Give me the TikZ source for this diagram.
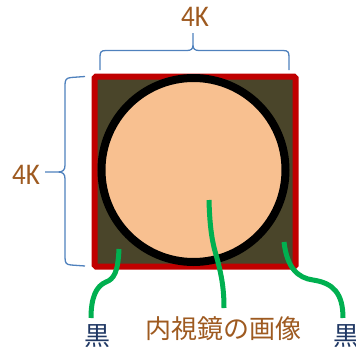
\documentclass[tikz,border=0pt]{standalone}
\usepackage{fontspec}
\setmainfont{Carlito}
\newfontfamily\cjk{Noto Sans CJK JP}
\definecolor{braceblue}{RGB}{79,129,189}
\definecolor{txtbrown}{RGB}{158,90,32}
\definecolor{txtblue}{RGB}{32,56,100}
\definecolor{darkfill}{RGB}{74,69,42}
\definecolor{peach}{RGB}{248,192,144}
\definecolor{frred}{RGB}{192,0,0}
\definecolor{lgreen}{RGB}{0,176,80}
\tikzset{
  bracestyle/.style={draw=braceblue, line width=1.3pt, line join=round},
  sizelabel/.style={text=txtbrown, font=\fontsize{30}{30}\selectfont, inner sep=0pt, xscale=0.9},
  jplabel/.style={font=\cjk\fontsize{26}{26}\selectfont, inner sep=0pt},
  pointer/.style={draw=lgreen, line width=5pt, line cap=butt},
}
\begin{document}
\begin{tikzpicture}[x=1pt, y=-1pt]
\useasboundingbox (0,0) rectangle (356,351);
% frame
\coordinate (sqA) at (94.5,76.5);
\coordinate (sqB) at (295.5,266.5);
\draw[fill=darkfill, draw=frred, line width=6pt, rounded corners=1.5pt] (sqA) rectangle (sqB);
% endoscope image
\coordinate (cc) at (193.5,170);
\draw[fill=peach, draw=black, line width=8pt] (cc) circle[radius=92];
% labels
\node[sizelabel] (top4k) at (195,17) {4K};
\node[sizelabel] (left4k) at (26,175) {4K};
\node[jplabel, text=txtblue] (kuroL) at (97,336) {黒};
\node[jplabel, text=txtblue] (kuroR) at (346,336) {黒};
\node[jplabel, text=txtbrown] (naishi) at (223,329) {内視鏡の画像};
% top brace
\draw[bracestyle] (100,70) -- (100,57) .. controls (100,52) and (101,50.5) .. (106,50.5)
  -- (187,50.5) .. controls (191,50.5) and (193,49) .. (193,45) -- (193,33)
  (193,45) .. controls (193,49) and (195,50.5) .. (199,50.5)
  -- (283,50.5) .. controls (288,50.5) and (289,52) .. (289,57) -- (289,70);
% left brace
\draw[bracestyle] (85,76.5) -- (71,77.5) .. controls (66,78) and (65,80) .. (65,85)
  -- (65,165) .. controls (65,170) and (63,172) .. (58,172) -- (45,172)
  (58,172) .. controls (63,172) and (65,174) .. (65,179)
  -- (65,257) .. controls (65,263) and (66,264.5) .. (71,265) -- (85,266);
% green pointers
\coordinate (pL0) at (119,249);
\coordinate (pL1) at (91,318);
\coordinate (pM0) at (209,200);
\coordinate (pM1) at (224,308);
\coordinate (pR0) at (284,242);
\coordinate (pR1) at (343,318);
\draw[pointer] (pL0) .. controls (118,272) and (114,279) .. (106,282) .. controls (96,286) and (91,298) .. (pL1);
\draw[pointer] (pM0) .. controls (210,240) and (215,250) .. (218,262) .. controls (222,278) and (224,290) .. (pM1);
\draw[pointer] (pR0) .. controls (287,268) and (298,278) .. (313,280) .. controls (333,283) and (343,293) .. (pR1);
\end{tikzpicture}
\end{document}
